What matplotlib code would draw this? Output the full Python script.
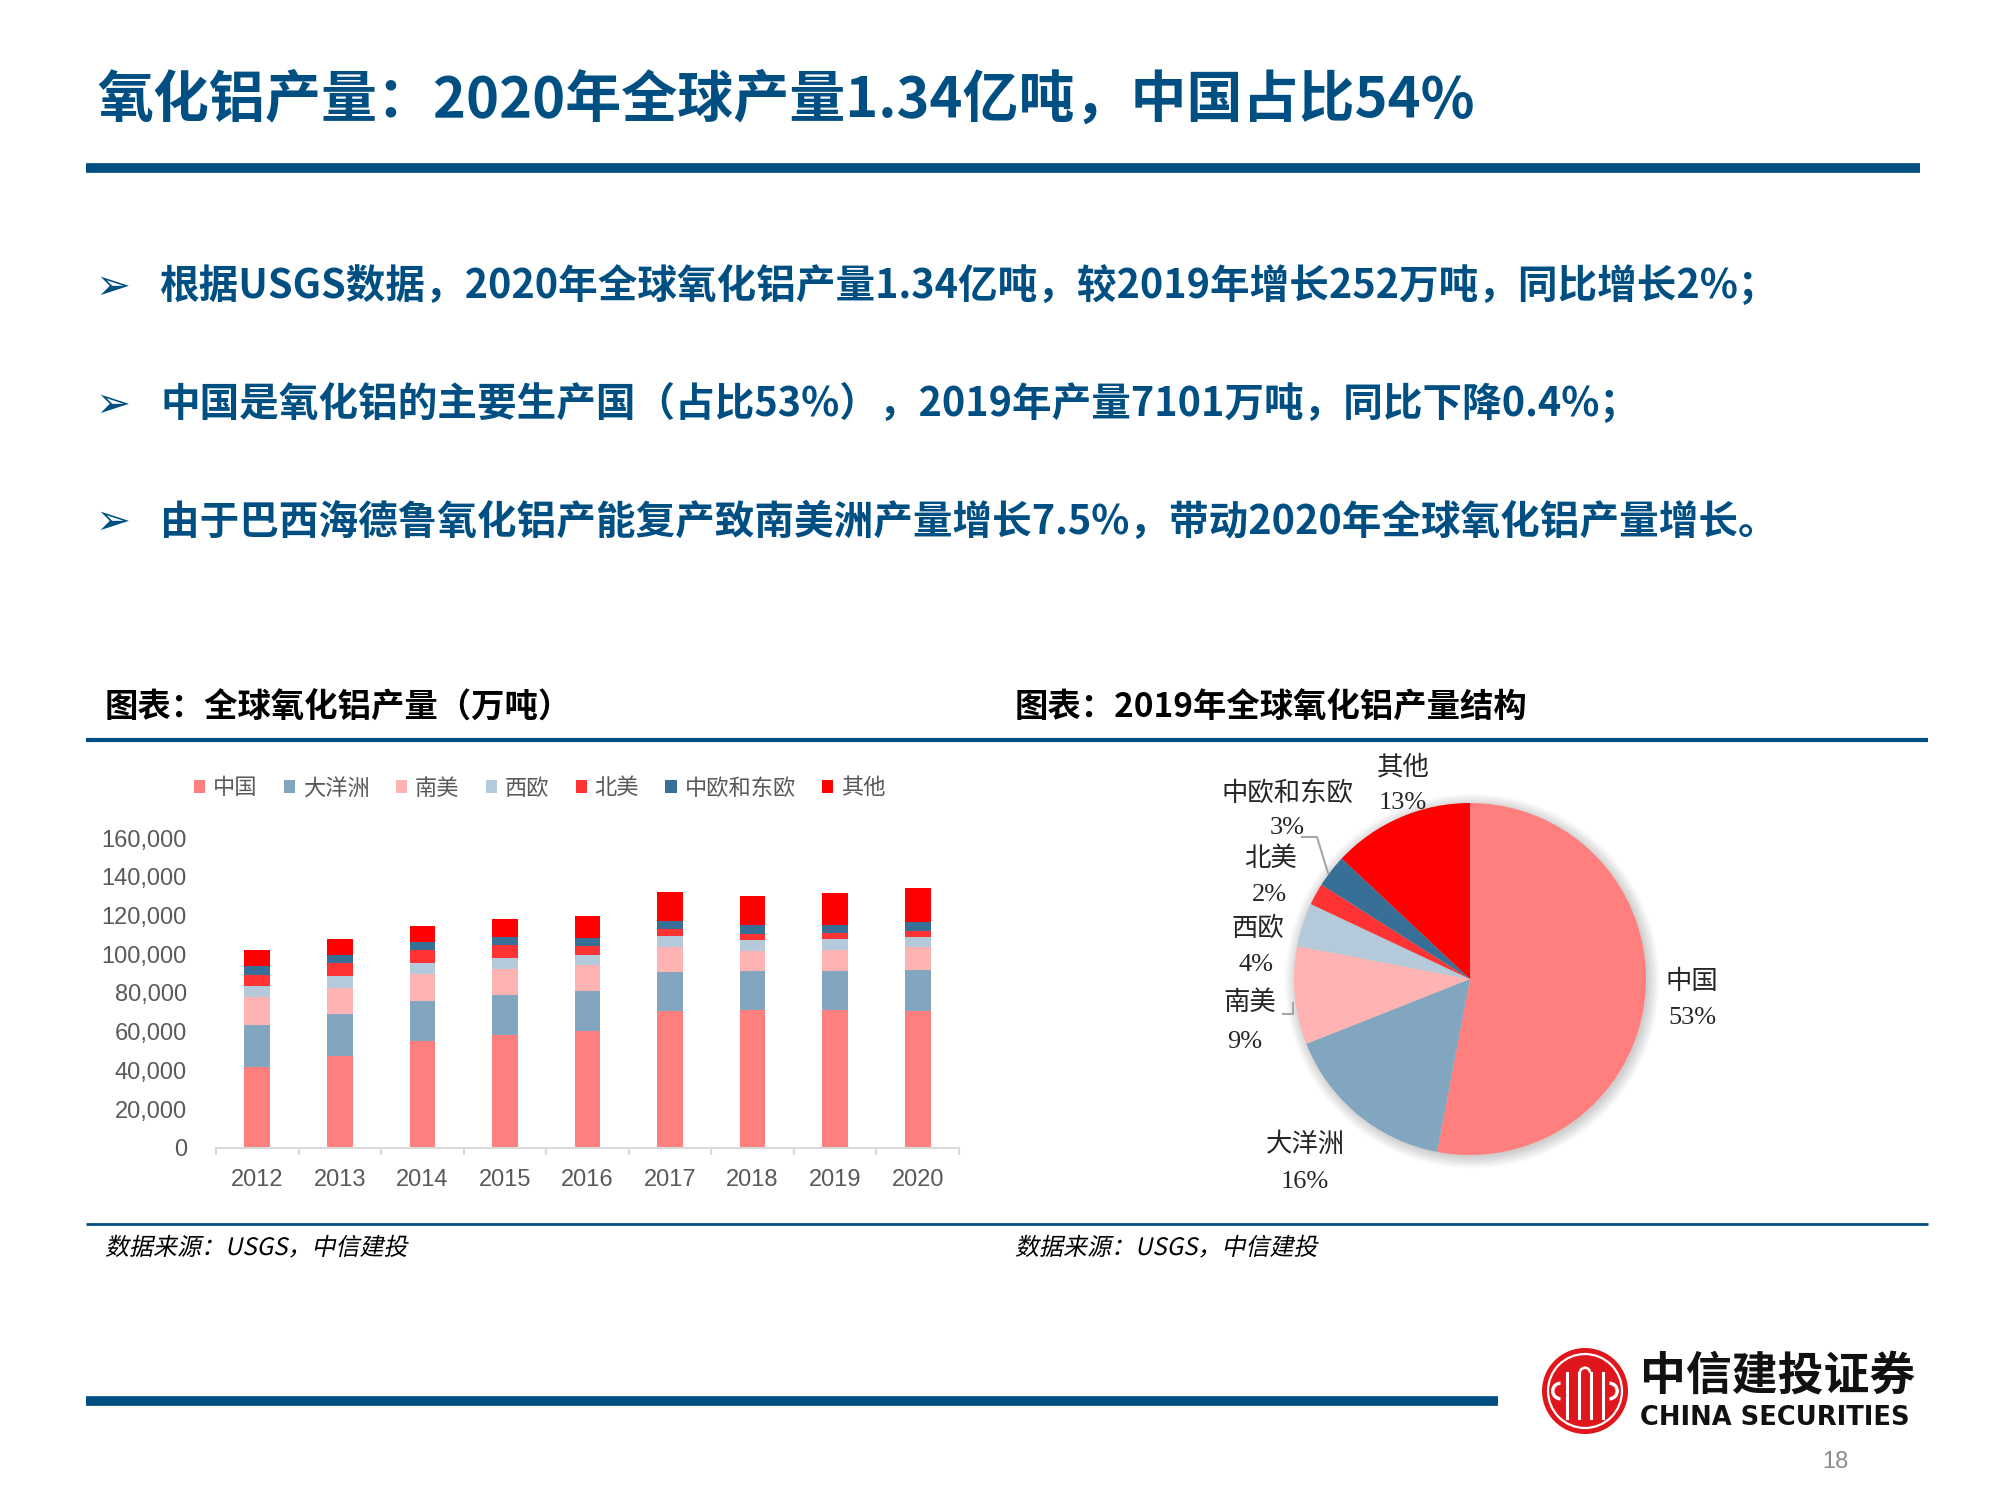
import numpy as np
import matplotlib
matplotlib.use("Agg")
import matplotlib.pyplot as plt
import matplotlib.transforms as mtransforms
from matplotlib.patches import Patch, Circle, Wedge, PathPatch
from matplotlib.lines import Line2D
from matplotlib.textpath import TextPath
from matplotlib.font_manager import FontProperties
from matplotlib.ticker import FuncFormatter, FixedLocator

plt.rcParams['font.family'] = ['Noto Sans CJK SC', 'DejaVu Sans']

# 数据（万吨）
years = ['2012', '2013', '2014', '2015', '2016', '2017', '2018', '2019', '2020']
regions = ['中国', '大洋洲', '南美', '西欧', '北美', '中欧和东欧', '其他']
china = [41800, 47300, 55400, 58500, 60400, 70500, 71200, 71000, 70500]
oceania = [21500, 21700, 20600, 20300, 20800, 20500, 20300, 20200, 21200]
south_america = [14500, 13400, 13600, 13400, 13100, 12900, 10200, 11000, 11900]
west_europe = [5600, 6200, 6100, 6000, 5500, 5700, 5800, 5700, 5500]
north_america = [6100, 6900, 6700, 6400, 4300, 3400, 3000, 3100, 2900]
central_east_europe = [4300, 4100, 4100, 4100, 4300, 4300, 4400, 4300, 4600]
others = [8600, 8400, 8300, 9500, 11300, 15000, 15300, 16500, 17800]

# 2019年产量结构（%）
pie_shares = [53, 16, 9, 4, 2, 3, 13]

colors = ['#FF7F7F', '#82A6BF', '#FFB3B3', '#B4C9D9', '#FF3333', '#376F96', '#FF0000']
BLUE = '#004F82'
W, H = 2000, 1500


def fx(x):
    return x / W


def fy(y):
    return 1 - y / H


def hline(x0, x1, y, lw, color=BLUE):
    fig.add_artist(Line2D([fx(x0), fx(x1)], [fy(y), fy(y)], color=color, lw=lw,
                          solid_capstyle='butt'))


def italic_text(x, y, s, size_px, color='black'):
    # 中文字体没有斜体，用路径做倾斜
    fp = FontProperties(family='Noto Sans CJK SC')
    tp = TextPath((0, 0), s, prop=fp, size=size_px)
    tr = mtransforms.Affine2D().skew_deg(12, 0).translate(x, H - y)
    fig.add_artist(PathPatch(tp, transform=tr, facecolor=color, edgecolor='none'))


fig = plt.figure(figsize=(20, 15), dpi=100)

# 标题
fig.text(fx(97), fy(101), '氧化铝产量：2020年全球产量1.34亿吨，中国占比54%',
         fontsize=40.3, fontweight='bold', color=BLUE, va='center')
hline(86, 1920, 168, 7)

# 要点
bullets = [
    '根据USGS数据，2020年全球氧化铝产量1.34亿吨，较2019年增长252万吨，同比增长2%；',
    '中国是氧化铝的主要生产国（占比53%），2019年产量7101万吨，同比下降0.4%；',
    '由于巴西海德鲁氧化铝产能复产致南美洲产量增长7.5%，带动2020年全球氧化铝产量增长。',
]
for i, b in enumerate(bullets):
    y = 287 + i * 117.5
    fig.text(fx(113), fy(y), '➢', fontsize=30, color=BLUE, va='center', ha='center',
             family=['DejaVu Sans'])
    fig.text(fx(160), fy(y), b, fontsize=28.5, fontweight='bold', color=BLUE,
             va='center')

# 小标题与分隔线
fig.text(fx(105), fy(708), '图表：全球氧化铝产量（万吨）', fontsize=24,
         fontweight='bold', color='black', va='center')
fig.text(fx(1015), fy(708), '图表：2019年全球氧化铝产量结构', fontsize=24,
         fontweight='bold', color='black', va='center')
hline(86, 1928, 740, 3)
hline(86, 1928, 1224, 2)
for xs in (105, 1015):
    italic_text(xs, 1255, '数据来源：USGS，中信建投', 24)

# 柱状图
ax = fig.add_axes([fx(216), fy(1148), (959 - 216) / W, (1148 - 838) / H])
series = [china, oceania, south_america, west_europe, north_america,
          central_east_europe, others]
x = np.arange(len(years))
bottom = np.zeros(len(years))
for vals, c, name in zip(series, colors, regions):
    ax.bar(x, vals, width=0.31, bottom=bottom, color=c, label=name, linewidth=0)
    bottom += np.array(vals)

ax.set_ylim(0, 160000)
ax.set_xlim(-0.5, len(years) - 0.5)
ax.set_yticks(np.arange(0, 160001, 20000))
ax.yaxis.set_major_formatter(FuncFormatter(lambda v, p: f'{int(v):,}'))
ax.set_xticks(x)
ax.set_xticklabels(years)
ax.xaxis.set_minor_locator(FixedLocator(np.arange(-0.5, len(years), 1.0)))
ax.tick_params(axis='y', length=0, pad=21, labelsize=17, labelcolor='#595959')
ax.tick_params(axis='x', which='major', length=0, pad=15, labelsize=17,
               labelcolor='#595959')
ax.tick_params(axis='x', which='minor', length=5, width=1.5, color='#D9D9D9')
for s in ('top', 'right', 'left'):
    ax.spines[s].set_visible(False)
ax.spines['bottom'].set_color('#D9D9D9')
ax.spines['bottom'].set_linewidth(1.5)
for lab in ax.get_xticklabels() + ax.get_yticklabels():
    lab.set_family(['Liberation Sans', 'DejaVu Sans'])

handles = [Patch(facecolor=c, edgecolor='none') for c in colors]
fig.legend(handles, regions, loc='center left', bbox_to_anchor=(fx(194), fy(788)),
           ncol=7, frameon=False, fontsize=16, handlelength=0.5, handleheight=0.5,
           handletextpad=0.36, columnspacing=1.18, borderpad=0, borderaxespad=0,
           labelcolor='#595959')

# 饼图
cx, cy, r = 1470, 979, 176
ax2 = fig.add_axes([fx(cx - r), fy(cy + r), 2 * r / W, 2 * r / H])
for k in range(8):
    ax2.add_patch(Circle((0.012, -0.012), 1.0 + k * 0.009, facecolor='#000000',
                         alpha=0.025, edgecolor='none', clip_on=False, zorder=0))
ax2.pie(pie_shares, colors=colors, startangle=90, counterclock=False,
        radius=1, wedgeprops=dict(linewidth=0))
ax2.set_xlim(-1, 1)
ax2.set_ylim(-1, 1)
ax2.set_aspect('equal')
ax2.axis('off')

label_pos = [((1692, 982), (1692, 1018)),
             ((1305, 1145), (1305, 1182)),
             ((1250, 1003), (1245, 1042)),
             ((1258, 929), (1256, 965)),
             ((1270, 859), (1269, 895)),
             ((1287, 793), (1287, 828)),
             ((1403, 767), (1403, 803))]
for name, share, (p1, p2) in zip(regions, pie_shares, label_pos):
    fig.text(fx(p1[0]), fy(p1[1]), name, fontsize=19, color='#262626',
             ha='center', va='center', family=['Liberation Serif', 'Noto Sans CJK SC'])
    fig.text(fx(p2[0]), fy(p2[1]), f'{share}%', fontsize=19, color='#262626',
             ha='center', va='center', family=['Liberation Serif', 'Noto Sans CJK SC'])

fig.add_artist(Line2D([fx(1302), fx(1317), fx(1328)], [fy(837), fy(837), fy(873)],
                      color='#A6A6A6', lw=1.5))
fig.add_artist(Line2D([fx(1283), fx(1293), fx(1293)], [fy(1014), fy(1014), fy(1003)],
                      color='#A6A6A6', lw=1.5))

# 页脚
hline(86, 1498, 1401, 7)

lr = 43
ax3 = fig.add_axes([fx(1585 - lr), fy(1391 + lr), 2 * lr / W, 2 * lr / H])
ax3.add_patch(Circle((0, 0), 1.0, facecolor='#E0161D', edgecolor='none'))
ax3.add_patch(Circle((0, 0), 0.86, facecolor='none', edgecolor='white', lw=1.6))
for xs in (-0.42, -0.15, 0.15, 0.42):
    ax3.add_line(Line2D([xs, xs], [-0.62, 0.42], color='white', lw=2.2))
ax3.add_patch(Wedge((0, 0.42), 0.15, 0, 180, width=0.06, facecolor='white'))
ax3.add_patch(Wedge((-0.57, 0.0), 0.22, 90, 270, width=0.08, facecolor='white'))
ax3.add_patch(Wedge((0.57, 0.0), 0.22, -90, 90, width=0.08, facecolor='white'))
ax3.set_xlim(-1, 1)
ax3.set_ylim(-1, 1)
ax3.set_aspect('equal')
ax3.axis('off')

fig.text(fx(1640), fy(1377), '中信建投证券', fontsize=33, fontweight='bold',
         color='#111111', va='center', ha='left')
fig.text(fx(1640), fy(1418), 'CHINA SECURITIES', fontsize=18.5, fontweight='bold',
         color='#111111', va='center', ha='left', family=['DejaVu Sans'])
fig.text(fx(1835), fy(1462), '18', fontsize=17, color='#8C8C8C', va='center',
         ha='center', family=['Liberation Sans'])

fig.savefig('out.png', dpi=100, facecolor='white')
